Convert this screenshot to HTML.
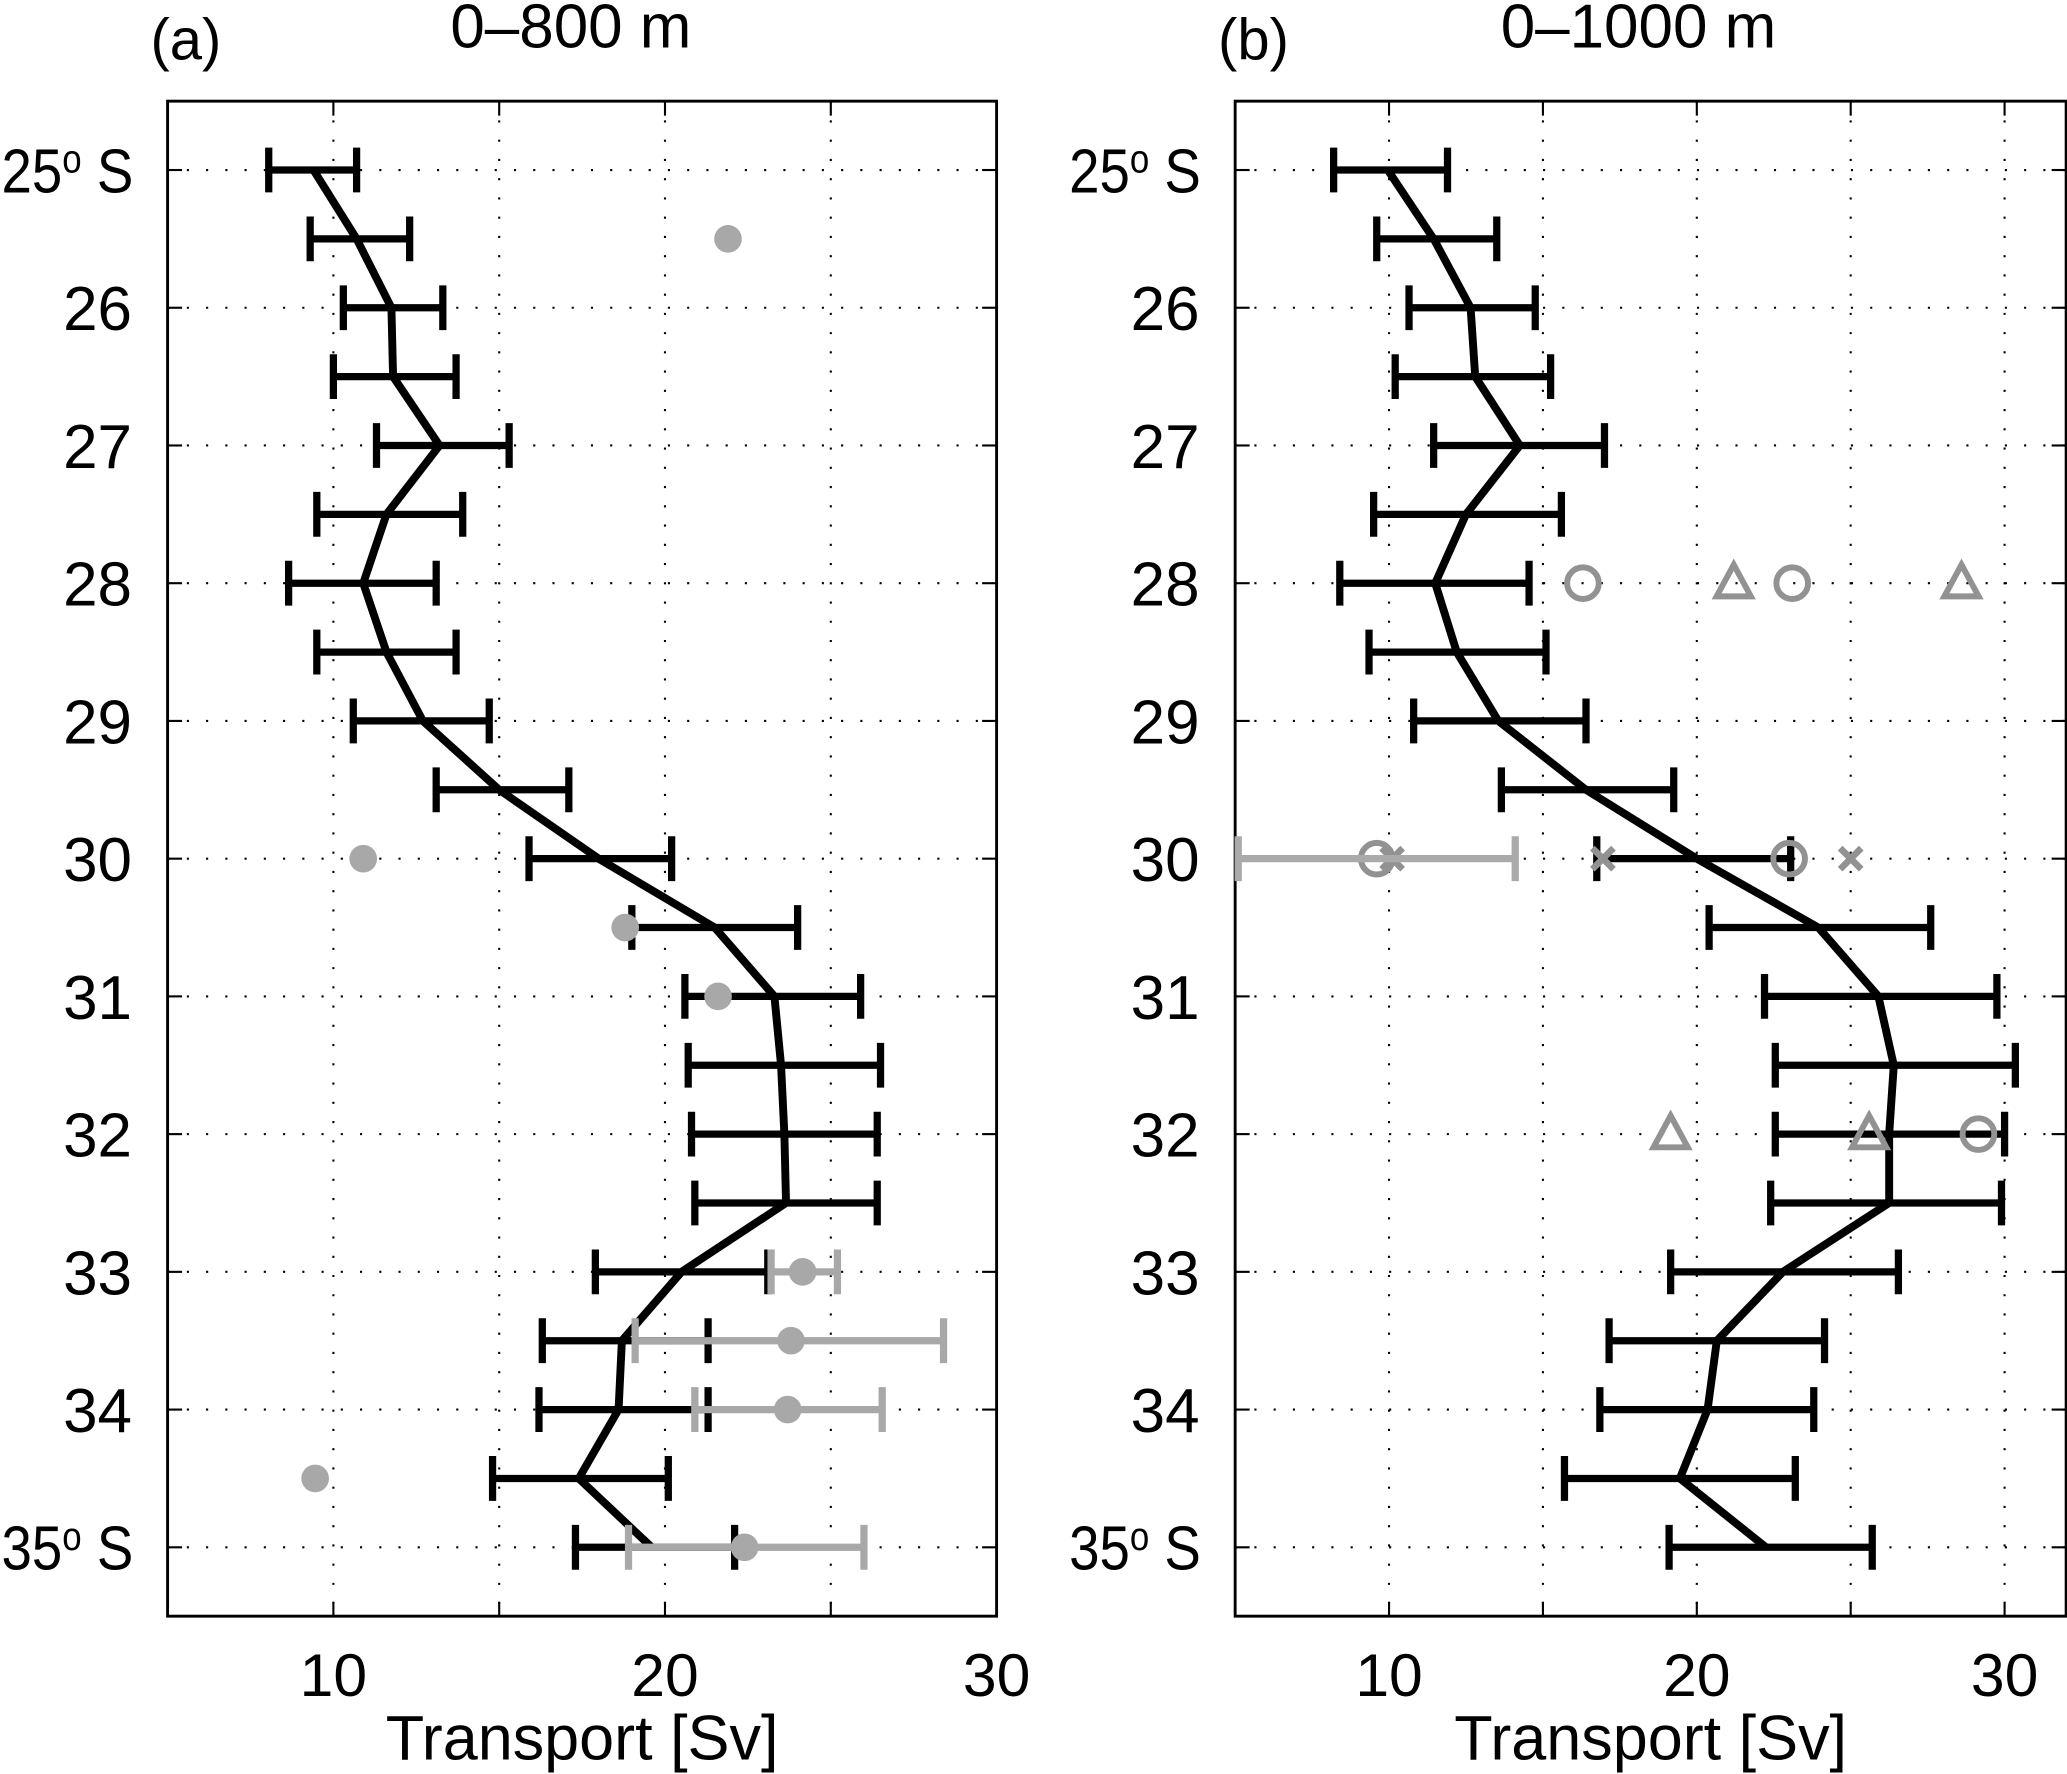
<!DOCTYPE html>
<html><head><meta charset="utf-8"><style>
html,body{margin:0;padding:0;background:#fff}
svg{display:block}
text{font-family:"Liberation Sans",sans-serif;fill:#000}
</style></head><body>
<svg id="fig" width="2067" height="1774" viewBox="0 0 1568 1346" xmlns="http://www.w3.org/2000/svg">
<g id="pa"></g>
<g id="pb"></g>
</svg>
<script>
// ---- data ----
const lats = [25,25.5,26,26.5,27,27.5,28,28.5,29,29.5,30,30.5,31,31.5,32,32.5,33,33.5,34,34.5,35];
const aMean = [9.4,10.7,11.75,11.8,13.2,11.6,10.9,11.6,12.7,15.0,18.0,21.5,23.3,23.5,23.6,23.65,20.5,18.7,18.6,17.4,19.6];
const aLo = [8.05,9.3,10.3,10.0,11.3,9.5,8.65,9.5,10.6,13.1,15.9,19.0,20.6,20.7,20.8,20.9,17.9,16.3,16.2,14.8,17.3];
const aHi = [10.7,12.3,13.3,13.7,15.3,13.9,13.1,13.7,14.7,17.1,20.2,24.0,25.9,26.5,26.4,26.4,23.1,21.3,21.3,20.1,22.1];
const aDotLat = [25.5,30,30.5,31,34.5];
const aDotVal = [21.9,10.9,18.8,21.6,9.45];
const aErrLat = [33,33.5,34,35];
const aErrVal = [24.15,23.8,23.7,22.4];
const aErrLo = [23.2,19.1,20.9,18.9];
const aErrHi = [25.2,28.4,26.55,26.0];

const bMean = [9.96,11.45,12.65,12.8,14.25,12.5,11.5,12.2,13.55,16.4,20.0,23.95,25.9,26.4,26.25,26.25,22.8,20.65,20.35,19.45,22.25];
const bLo = [8.2,9.6,10.65,10.2,11.45,9.5,8.4,9.35,10.8,13.65,16.75,20.4,22.2,22.55,22.55,22.4,19.15,17.15,16.85,15.7,19.1];
const bHi = [11.9,13.5,14.75,15.25,17.0,15.6,14.55,15.1,16.4,19.25,23.05,27.6,29.75,30.35,30.0,29.9,26.55,24.15,23.8,23.2,25.7];
const bCircLat = [28,28,30,30,32];
const bCircVal = [16.3,23.1,9.6,23.0,29.15];
const bTriLat = [28,28,32,32];
const bTriVal = [21.2,28.6,19.15,25.6];
const bXLat = [30,30,30];
const bXVal = [10.1,16.95,25.0];
const bErrLat = [30];
const bErrLo = [5.1];
const bErrHi = [14.1];

const yTicks = [25,26,27,28,29,30,31,32,33,34,35];
const aXTicks = [10,20,30];
const bXTicks = [10,20,30];

// ---- helpers ----
const NS='http://www.w3.org/2000/svg';
function mk(p,tag,at){const e=document.createElementNS(NS,tag);for(const k in at)e.setAttribute(k,at[k]);p.appendChild(e);return e;}
const Y = lat => 129 + (lat-25)*104.5;
const yTop = Y(24.5), yBot = Y(35.5);

function panel(g, x0, x1, vmin, vmax, title, label, mean, lo, hi, xticks){
  const X = v => x0 + (v-vmin)/(vmax-vmin)*(x1-x0);
  for(let v=vmin+5-(vmin%5); v<vmax; v+=5){
    if(v<=vmin) continue;
    const l=mk(g,'line',{x1:X(v),x2:X(v),y1:yTop,y2:yBot,stroke:'#000','stroke-width':1.6,'stroke-dasharray':'1.6 13'});
    
    
    const t1=mk(g,'line',{x1:X(v),x2:X(v),y1:yBot,y2:yBot-11,stroke:'#000','stroke-width':1.6});
    
    
    const t2=mk(g,'line',{x1:X(v),x2:X(v),y1:yTop,y2:yTop+11,stroke:'#000','stroke-width':1.6});
    
    
  }
  yTicks.forEach(lat=>{
    const l=mk(g,'line',{x1:x0,x2:x1,y1:Y(lat),y2:Y(lat),stroke:'#000','stroke-width':1.6,'stroke-dasharray':'1.6 13'});
    
    
    const t=mk(g,'line',{x1:x0,x2:x0+11,y1:Y(lat),y2:Y(lat),stroke:'#000','stroke-width':1.6});
    
    
    const t2=mk(g,'line',{x1:x1,x2:x1-11,y1:Y(lat),y2:Y(lat),stroke:'#000','stroke-width':1.6});
    
    
    const tx=mk(g,'text',{x:x0-27,y:Y(lat)+17,'font-size':47,'text-anchor':'end'});
    
    
    if(lat===25||lat===35){
      tx.setAttribute('x',x0-126);
      tx.setAttribute('text-anchor','start');
      tx.setAttribute('textLength',100);
      tx.setAttribute('lengthAdjust','spacingAndGlyphs');
      tx.innerHTML = lat+'<tspan font-size="30" dy="-15">o</tspan><tspan dy="15"> S</tspan>';
    } else tx.textContent = lat;
  });
  xticks.forEach(v=>{
    const tx=mk(g,'text',{x:X(v),y:1287,'font-size':46,'text-anchor':'middle'});
    
    
    tx.textContent=v;
  });
  const frame=mk(g,'rect',{x:x0,y:yTop,width:x1-x0,height:yBot-yTop,fill:'none',stroke:'#000','stroke-width':2.2});
  
  
  const xl=mk(g,'text',{x:(x0+x1)/2,y:1335,'font-size':48,'text-anchor':'middle',textLength:298,lengthAdjust:'spacingAndGlyphs'});
  
  
  xl.textContent='Transport [Sv]';
  const tl=mk(g,'text',{x:x0-13,y:45,'font-size':44});
  
  
  tl.textContent=label;
  const tt=mk(g,'text',{x:x0+306,y:36,'font-size':47,'text-anchor':'middle'});
  
  
  tt.textContent=title;
  lats.forEach((lat,i)=>{
    const e=mk(g,'path',{d:`M${X(lo[i])} ${Y(lat)}H${X(hi[i])}M${X(lo[i])} ${Y(lat)-17}V${Y(lat)+17}M${X(hi[i])} ${Y(lat)-17}V${Y(lat)+17}`,stroke:'#000','stroke-width':5.5,fill:'none'});
    
    
  });
  const ln=mk(g,'polyline',{points:lats.map((lat,i)=>X(mean[i])+','+Y(lat)).join(' '),fill:'none',stroke:'#000','stroke-width':6,'stroke-linejoin':'round'});
  
  
  return X;
}

const ga=document.getElementById('pa'), gb=document.getElementById('pb');
const XA = panel(ga,127,756,5,30,'0–800 m','(a)',aMean,aLo,aHi,aXTicks);
const XB = panel(gb,937,1567.5,5,32,'0–1000 m','(b)',bMean,bLo,bHi,bXTicks);

const GA='#a8a8a8';
aErrLat.forEach((lat,i)=>{
  const e=mk(ga,'path',{d:`M${XA(aErrLo[i])} ${Y(lat)}H${XA(aErrHi[i])}M${XA(aErrLo[i])} ${Y(lat)-17}V${Y(lat)+17}M${XA(aErrHi[i])} ${Y(lat)-17}V${Y(lat)+17}`,stroke:GA,'stroke-width':5.5,fill:'none'});
  
  
  const c=mk(ga,'circle',{cx:XA(aErrVal[i]),cy:Y(lat),r:10.5,fill:GA});
  
  
});
aDotLat.forEach((lat,i)=>{
  const c=mk(ga,'circle',{cx:XA(aDotVal[i]),cy:Y(lat),r:10.5,fill:GA});
  
  
});

const GB='#929292';
bTriLat.forEach((lat,i)=>{
  const x=XB(bTriVal[i]), y=Y(lat);
  const t=mk(gb,'polygon',{points:`${x},${y-14} ${x-13},${y+10} ${x+13},${y+10}`,fill:'none',stroke:GB,'stroke-width':4.5});
  
  
});
bXLat.forEach((lat,i)=>{
  const x=XB(bXVal[i]), y=Y(lat);
  const m=mk(gb,'path',{d:`M${x-8} ${y-8}L${x+8} ${y+8}M${x-8} ${y+8}L${x+8} ${y-8}`,stroke:GB,'stroke-width':5});
  
  
});
bCircLat.forEach((lat,i)=>{
  const c=mk(gb,'circle',{cx:XB(bCircVal[i]),cy:Y(lat),r:12,fill:'none',stroke:GB,'stroke-width':4.5});
  
  
});
bErrLat.forEach((lat,i)=>{
  const e=mk(gb,'path',{d:`M${XB(bErrLo[i])} ${Y(lat)}H${XB(bErrHi[i])}M${XB(bErrLo[i])} ${Y(lat)-17}V${Y(lat)+17}M${XB(bErrHi[i])} ${Y(lat)-17}V${Y(lat)+17}`,stroke:'#aaaaaa','stroke-width':5.5,fill:'none'});
  
  
});
</script>
</body></html>
